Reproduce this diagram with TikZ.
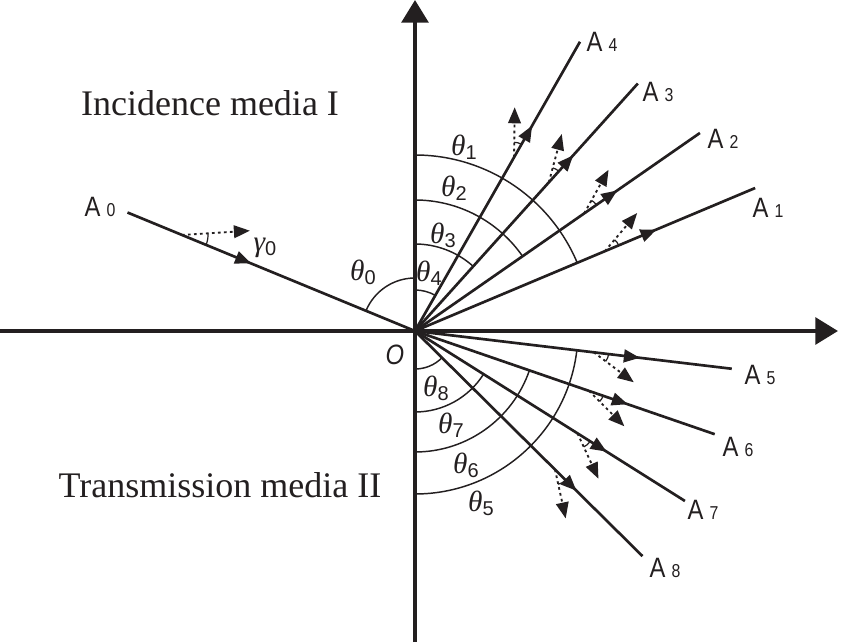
\documentclass[tikz,border=0pt]{standalone}
\usepackage{fontspec}
\setmainfont{Liberation Serif}
\setsansfont{Liberation Sans}
\newfontfamily\narrowsf[FakeStretch=0.85]{Liberation Sans}
\usetikzlibrary{arrows.meta,decorations.markings}
\definecolor{ink}{HTML}{231F20}
\newcommand{\alab}[1]{{\narrowsf\fontsize{21}{21}\selectfont A\kern4.5pt\fontsize{14}{14}\selectfont #1}}
\newcommand{\thlab}[2]{{\fontsize{22}{22}\selectfont\itshape #1}{\sffamily\fontsize{15}{15}\selectfont\raisebox{-3pt}{#2}}}

\begin{document}
\begin{tikzpicture}[x=0.75pt,y=0.75pt,color=ink,
   axis/.style={line width=3pt,-{Triangle[length=17pt,width=20pt]}},
   ray/.style={line width=2pt,postaction={decorate},
     decoration={markings,mark=at position #1 with {\arrow{Triangle[length=12pt,width=9.5pt]}}}},
   ray/.default=0.71,
   pol/.style={line width=1.4pt,dash pattern=on 2pt off 2.5pt,-{Triangle[length=12pt,width=9.5pt]}},
   ang/.style={line width=1.1pt},
   tick/.style={line width=0.9pt},
   lab/.style={inner sep=0pt},
   media/.style={inner sep=0pt,font=\fontsize{27}{27}\selectfont}]
  \useasboundingbox (-415,-311) rectangle (426,331);
  % axes
  \coordinate (O) at (0,0);
  \coordinate (bot) at (0,-311);
  \coordinate (top) at (0,331);
  \coordinate (left) at (-415,0);
  \coordinate (right) at (423,0);
  \draw[axis] (bot) -- (top);
  \draw[axis] (left) -- (right);
  % incident ray
  \coordinate (a0) at (157.6:311);
  \coordinate (s0) at (157.6:252);
  \draw[ray=0.43] (a0) -- (O);
  \draw[pol] (s0) -- ++(3.6:68) coordinate (p0);
  \draw[tick] (s0) ++(-22.4:26) arc[start angle=-22.4,end angle=3.6,radius=26];
  \node[lab] (l0) at (-315,124) {\alab{0}};
  % reflected and transmitted rays
  \foreach \n/\a/\r/\s/\d/\lx/\ly in {1/22.8/369/206/27/353/123,2/34.8/347/206/26/308/192,
      3/48.0/333/200/27/243/239,4/60.3/333/200/29/187/289,5/-6.8/319/180/-30/345/-44,
      6/-19.0/317/184/-26/323/-116,7/-32.2/319/192/-33/288/-179,8/-44.7/320/197/-33/250/-237}{
    \pgfmathsetmacro\b{\a+\d}
    \coordinate (a\n) at (\a:\r);
    \coordinate (s\n) at (\a:\s);
    \draw[ray] (O) -- (a\n);
    \draw[pol] (s\n) -- ++(\b:50) coordinate (p\n);
    \draw[tick] (s\n) ++(\a:15) arc[start angle=\a,end angle=\b,radius=15];
    \node[lab] (l\n) at (\lx,\ly) {\alab{\n}};
  }
  % angle arcs
  \draw[ang] (0,53) arc[start angle=90,end angle=157.6,radius=53];
  \draw[ang] (0,176) arc[start angle=90,end angle=22.8,radius=176];
  \draw[ang] (0,131) arc[start angle=90,end angle=34.8,radius=131];
  \draw[ang] (0,87) arc[start angle=90,end angle=48,radius=87];
  \draw[ang] (0,41) arc[start angle=90,end angle=60.3,radius=41];
  \draw[ang] (0,-163) arc[start angle=-90,end angle=-6.8,radius=163];
  \draw[ang] (0,-121) arc[start angle=-90,end angle=-19,radius=121];
  \draw[ang] (0,-81) arc[start angle=-90,end angle=-32.2,radius=81];
  \draw[ang] (0,-38) arc[start angle=-90,end angle=-44.7,radius=38];
  % labels
  \node[lab] (g0) at (-150,83) {\thlab{γ}{0}};
  \node[lab] (t0) at (-52,59) {\thlab{θ}{0}};
  \node[lab] (t1) at (49,184) {\thlab{θ}{1}};
  \node[lab] (t2) at (39,143) {\thlab{θ}{2}};
  \node[lab] (t3) at (28,96) {\thlab{θ}{3}};
  \node[lab] (t4) at (14,58) {\thlab{θ}{4}};
  \node[lab] (t5) at (66,-172) {\thlab{θ}{5}};
  \node[lab] (t6) at (51,-134) {\thlab{θ}{6}};
  \node[lab] (t7) at (36,-94) {\thlab{θ}{7}};
  \node[lab] (t8) at (21,-57) {\thlab{θ}{8}};
  \node[lab,font=\narrowsf\itshape\fontsize{21}{21}\selectfont] (o) at (-20,-24) {O};
  \node[media] (inc) at (-205,228) {Incidence media I};
  \node[media] (tra) at (-195,-154) {Transmission media II};
\end{tikzpicture}
\end{document}
